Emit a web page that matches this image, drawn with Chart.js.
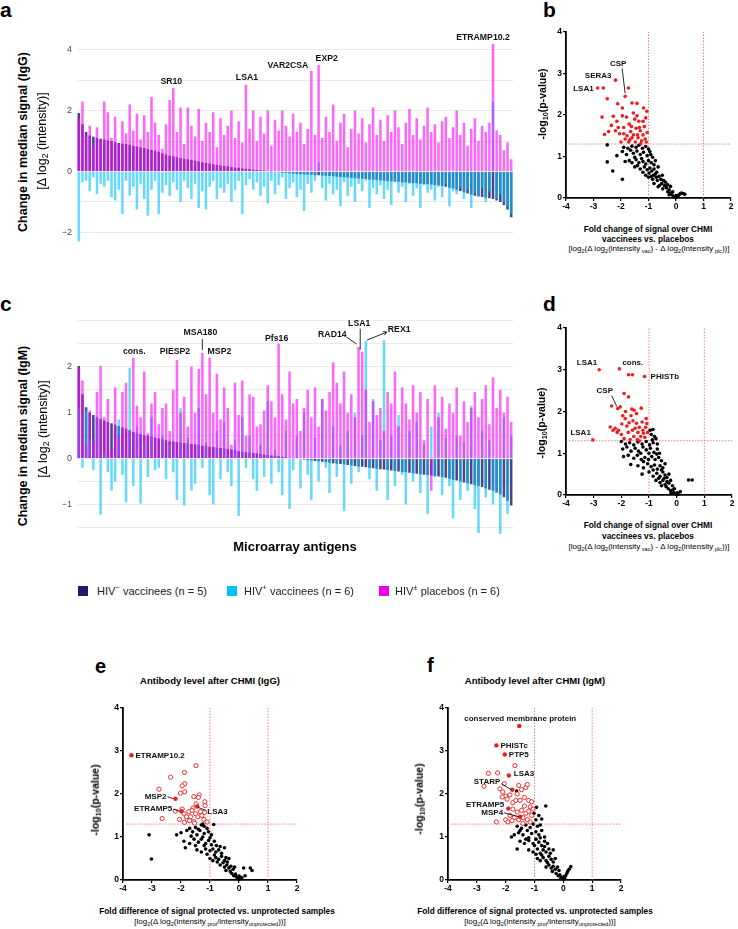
<!DOCTYPE html>
<html>
<head>
<meta charset="utf-8">
<script src="https://cdn.jsdelivr.net/npm/chart.js@4.4.1/dist/chart.umd.min.js"></script>
<style>
  body { margin: 0; background: #fff; font-family: "Liberation Sans", Arial, sans-serif; }
  #page { position: relative; width: 738px; height: 929px; overflow: hidden; }
  canvas { position: absolute; }
  .t { position: absolute; white-space: nowrap; line-height: 1; color: #000; }
  .c { transform: translate(-50%, -50%); }
  .r { transform: translate(-50%, -50%) rotate(-90deg); }
  .l { transform: translateY(-50%); }
  .letter { font-weight: bold; font-size: 21px; }
  .b { font-weight: bold; }
  sub { font-size: 70%; vertical-align: -0.3em; line-height: 0; }
  sup { font-size: 70%; vertical-align: 0.55em; line-height: 0; }
  .sq { position: absolute; width: 10px; height: 10px; }
</style>
</head>
<body>
<div id="page">
  <canvas id="chartA" width="472" height="233" style="left:49px;top:25px"></canvas>
  <canvas id="chartB" width="197" height="198" style="left:542px;top:24px"></canvas>
  <canvas id="chartC" width="472" height="247" style="left:49px;top:300px"></canvas>
  <canvas id="chartD" width="198" height="199" style="left:542px;top:320px"></canvas>
  <canvas id="chartE" width="206" height="204" style="left:99px;top:700px"></canvas>
  <canvas id="chartF" width="205" height="204" style="left:424px;top:700px"></canvas>

  <div class="t letter" style="left:0;top:-1px">a</div>
  <div class="t letter" style="left:543px;top:-1px">b</div>
  <div class="t letter" style="left:0;top:293px">c</div>
  <div class="t letter" style="left:543px;top:293px">d</div>
  <div class="t letter" style="left:95px;top:656px;font-size:20px">e</div>
  <div class="t letter" style="left:427px;top:655px;font-size:20px">f</div>

  <!-- bar panel axis titles -->
  <div class="t r b" style="left:23px;top:142px;font-size:12.5px">Change in median signal (IgG)</div>
  <div class="t r" style="left:42px;top:141px;font-size:12.5px">[Δ log<sub>2</sub> (intensity)]</div>
  <div class="t r b" style="left:23px;top:436px;font-size:12.5px">Change in median signal (IgM)</div>
  <div class="t r" style="left:43px;top:429px;font-size:12.5px">[Δ log<sub>2</sub> (intensity)]</div>
  <div class="t c b" style="left:295px;top:546px;font-size:13px">Microarray antigens</div>

  <!-- legend -->
  <div class="sq" style="left:78px;top:586px;background:#1f1a6e"></div>
  <div class="t l" style="left:97px;top:591px;font-size:11px;color:#222">HIV<sup>−</sup> vaccinees (n = 5)</div>
  <div class="sq" style="left:227px;top:586px;background:#00bfff"></div>
  <div class="t l" style="left:244px;top:591px;font-size:11px;color:#222">HIV<sup>+</sup> vaccinees (n = 6)</div>
  <div class="sq" style="left:379px;top:586px;background:#ee00ee"></div>
  <div class="t l" style="left:395px;top:591px;font-size:11px;color:#222">HIV<sup>±</sup> placebos (n = 6)</div>

  <!-- volcano b / d titles -->
  <div class="t r b" style="left:542px;top:104px;font-size:10.5px">-log<sub>10</sub>(p-value)</div>
  <div class="t c b" style="left:648px;top:229px;font-size:8.3px">Fold change of signal over CHMI</div>
  <div class="t c b" style="left:648px;top:239px;font-size:8.3px">vaccinees vs. placebos</div>
  <div class="t c" style="left:649px;top:249px;font-size:8px">[log<sub>2</sub>(Δ log<sub>2</sub>(intensity<sub> vac</sub>) - Δ log<sub>2</sub>(intensity<sub> plc</sub>))]</div>

  <div class="t r b" style="left:541px;top:423px;font-size:10.5px">-log<sub>10</sub>(p-value)</div>
  <div class="t c b" style="left:648px;top:525px;font-size:8.3px">Fold change of signal over CHMI</div>
  <div class="t c b" style="left:648px;top:536px;font-size:8.3px">vaccinees vs. placebos</div>
  <div class="t c" style="left:649px;top:547px;font-size:8px">[log<sub>2</sub>(Δ log<sub>2</sub>(intensity<sub> vac</sub>) - Δ log<sub>2</sub>(intensity<sub> plc</sub>))]</div>

  <!-- volcano e / f titles -->
  <div class="t c b" style="left:210px;top:681px;font-size:9.5px">Antibody level after CHMI (IgG)</div>
  <div class="t r b" style="left:95px;top:800px;font-size:10.5px">-log<sub>10</sub>(p-value)</div>
  <div class="t c b" style="left:217px;top:911px;font-size:8.3px">Fold difference of signal protected vs. unprotected samples</div>
  <div class="t c" style="left:210px;top:922px;font-size:8px">[log<sub>2</sub>(Δ log<sub>2</sub>(intensity<sub> prot</sub>/intensity<sub>unprotected</sub>))]</div>

  <div class="t c b" style="left:535px;top:681px;font-size:9.5px">Antibody level after CHMI (IgM)</div>
  <div class="t r b" style="left:419px;top:799px;font-size:10.5px">-log<sub>10</sub>(p-value)</div>
  <div class="t c b" style="left:535px;top:911px;font-size:8.3px">Fold difference of signal protected vs. unprotected samples</div>
  <div class="t c" style="left:540px;top:922px;font-size:8px">[log<sub>2</sub>(Δ log<sub>2</sub>(intensity<sub> prot</sub>/intensity<sub>unprotected</sub>))]</div>
</div>

<script>
// ---- panel a: change in median IgG signal per antigen (sorted by HIV- vaccinees)
const negVacIgG = [
  1.92, 1.55, 1.3, 1.18, 1.14, 1.1, 1.08, 1.05, 1.02, 1.0,
  0.97, 0.94, 0.92, 0.9, 0.88, 0.85, 0.82, 0.8, 0.77, 0.74,
  0.71, 0.68, 0.65, 0.6, 0.56, 0.52, 0.5, 0.47, 0.44, 0.42,
  0.4, 0.38, 0.35, 0.33, 0.3, 0.28, 0.26, 0.24, 0.22, 0.2,
  0.18, 0.17, 0.15, 0.13, 0.12, 0.1, 0.09, 0.08, 0.06, 0.05,
  0.04, 0.03, 0.02, 0.01, 0.0, -0.02, -0.04, -0.05, -0.06, -0.07,
  -0.08, -0.09, -0.1, -0.1, -0.11, -0.12, -0.12, -0.13, -0.14, -0.15,
  -0.16, -0.17, -0.18, -0.19, -0.2, -0.21, -0.22, -0.23, -0.24, -0.25,
  -0.26, -0.27, -0.28, -0.29, -0.3, -0.31, -0.32, -0.33, -0.34, -0.35,
  -0.36, -0.37, -0.38, -0.39, -0.4, -0.41, -0.42, -0.43, -0.44, -0.45,
  -0.48, -0.5, -0.53, -0.56, -0.6, -0.64, -0.68, -0.72, -0.76, -0.8,
  -0.82, -0.84, -0.86, -0.88, -0.9, -0.95, -1.0, -1.1, -1.25, -1.5
];
const posVacIgG = [
  -2.3, -0.35, -0.3, -0.65, -0.2, -0.75, -0.4, -0.5, -0.3, -0.85,
  -0.95, -0.6, -1.4, -0.3, -0.8, -0.5, -1.25, -0.4, -0.9, -1.45,
  -0.6, -0.3, -1.4, -0.7, -0.45, -0.8, -0.35, -0.6, -1.0, -0.3,
  -0.55, -0.9, -0.4, -1.2, -0.65, -1.25, -0.5, -0.3, -0.9, -0.55,
  -0.7, -0.4, -1.0, -0.6, -0.3, -1.4, -0.45, -0.25, -0.6, -0.35,
  -0.8, -0.5, -1.05, -0.3, -0.75, -0.45, -0.2, -0.9, -0.55, -0.35,
  -0.85, -0.6, -1.3, -0.4, -0.7, -0.3, 0.3, -0.55, -0.95, -0.4,
  -0.75, -0.6, -1.15, -0.35, -0.8, -0.5, -1.0, -0.4, -0.65, -0.3,
  -1.2, -0.55, -0.75, -0.45, -0.9, -0.6, -1.1, -0.35, -0.7, -0.5,
  -1.0, -0.4, -0.8, -0.55, -1.2, -0.45, -0.7, -0.6, -0.95, -0.5,
  -0.85, -0.4, -1.15, -0.65, -0.75, -0.5, -0.9, -0.6, -1.2, -0.7,
  -0.8, -0.55, -1.0, -0.65, 2.3, -0.9, -0.75, -1.0, -1.15, -1.4
];
const placeboIgG = [
  1.75, 2.3, 1.2, 1.5, 0.85, 1.45, 1.0, 2.3, 1.95, 1.1,
  1.8, 0.9, 1.65, 1.25, 2.2, 1.35, 1.9, 1.05, 1.85, 1.3,
  2.45, 1.6, 1.2, 0.75, 1.55, 2.35, 2.75, 1.3, 2.1, 0.9,
  2.1, 1.5, 1.15, 2.05, 1.0, 1.6, 1.3, 1.95, 0.8, 1.75,
  1.2, 1.5, 2.0, 1.1, 1.65, 0.95, 2.85, 1.4, 2.0, 1.0,
  1.8, 1.25, 2.0, 0.85, 1.7, 1.35, 2.0, 1.5, 1.15, 1.9,
  1.3, 1.6, 0.9, 1.4, 3.3, 1.2, 3.5, 1.1, 1.8, 1.3,
  2.2, 1.0, 1.6, 1.9, 0.8, 1.4, 2.0, 1.25, 1.75, 0.95,
  1.55, 2.1, 1.2, 1.7, 1.0, 1.85, 1.3, 2.0, 1.45, 0.9,
  1.6, 2.05, 1.2, 1.75, 1.05, 1.5, 2.1, 1.3, 1.55, 0.95,
  1.65, 1.8, 1.1, 1.45, 2.0, 1.2, 1.6, 0.85, 1.4, 1.75,
  1.0, 1.5, 1.3, 1.6, 4.2, 1.35, 1.2, 0.7, 0.95, 0.4
];

// ---- panel c: same for IgM
const negVacIgM = [
  2.02, 1.4, 1.12, 1.0, 0.95, 0.9, 0.86, 0.83, 0.8, 0.77,
  0.74, 0.71, 0.68, 0.65, 0.62, 0.58, 0.55, 0.53, 0.51, 0.5,
  0.48, 0.46, 0.44, 0.42, 0.4, 0.38, 0.37, 0.36, 0.35, 0.34,
  0.33, 0.32, 0.31, 0.3, 0.28, 0.27, 0.26, 0.25, 0.24, 0.23,
  0.22, 0.21, 0.2, 0.18, 0.16, 0.15, 0.14, 0.13, 0.12, 0.11,
  0.1, 0.09, 0.08, 0.07, 0.06, 0.05, 0.04, 0.03, 0.02, 0.01,
  0.0, -0.01, -0.02, -0.03, -0.04, -0.05, -0.06, -0.07, -0.08, -0.09,
  -0.1, -0.11, -0.12, -0.13, -0.14, -0.15, -0.16, -0.17, -0.18, -0.19,
  -0.2, -0.21, -0.22, -0.23, -0.24, -0.25, -0.26, -0.27, -0.28, -0.29,
  -0.3, -0.31, -0.32, -0.33, -0.34, -0.35, -0.36, -0.37, -0.38, -0.39,
  -0.4, -0.42, -0.44, -0.46, -0.48, -0.5, -0.52, -0.54, -0.56, -0.58,
  -0.6, -0.62, -0.65, -0.68, -0.7, -0.74, -0.78, -0.84, -0.92, -1.02
];
const posVacIgM = [
  1.1, -0.2, 1.05, 0.4, -0.25, 0.9, -1.22, 0.15, -0.3, -0.7,
  -0.5, 0.85, -0.35, -0.95, 1.98, -0.6, 0.7, -0.98, 0.35, -0.4,
  0.9, -0.25, -0.2, 0.5, -0.45, 0.3, -0.3, -0.9, 1.1, -1.02,
  0.45, -0.7, -0.55, 1.1, -0.2, 0.35, -0.8, -1.0, 0.6, -0.45,
  0.8, -0.3, -0.6, 0.4, -1.25, 0.9, -0.2, 0.5, -0.45, -0.7,
  0.3, -0.4, 1.25, -0.55, 0.2, -0.3, -0.8, 0.6, -1.1, -0.25,
  0.5, -0.65, 1.0, -0.35, -0.9, 0.45, -0.5, 1.3, -0.2, -0.75,
  0.7, -0.4, 0.3, -1.15, 0.6, -0.55, 1.0, -0.3, 0.5, 2.56,
  -0.45, 1.3, -0.7, 0.4, 2.58, -0.9, 0.5, -0.6, 0.95, -0.35,
  -1.0, 0.6, -0.5, 0.8, -0.75, 0.3, -1.2, 0.7, -0.4, 1.0,
  -0.8, 0.45, -0.6, -1.3, 0.5, -0.9, 0.35, -0.7, 1.15, -1.1,
  -1.62, 0.6, -0.85, 0.4, -1.0, -0.75, -1.64, 0.9, -1.2, 0.5
];
const placeboIgM = [
  1.95, 1.7, 0.3, 1.05, 0.4, 1.45, 2.02, 0.9, 1.3, 0.2,
  1.55, 0.5, 1.45, 1.65, 0.6, 2.2, 1.15, 0.9, 1.9, 0.55,
  1.2, 1.45, 0.75, 1.1, 1.2, 0.6, 1.5, 2.15, 1.0, 1.35,
  0.7, 2.0, 1.0, 1.95, 2.3, 1.4, 2.2, 1.0, 1.85, 0.85,
  1.55, 1.1, 0.3, 1.65, 0.95, 1.7, 0.5, 1.4, 1.35, 0.7,
  0.75, 1.05, 1.6, 1.25, 0.9, 2.5, 1.4, 0.85, 1.9, 1.2,
  1.3, 0.6, 1.1, 1.5, 0.9, 1.55, 0.7, 1.3, 1.05, 1.45,
  2.1, 1.65, 1.2, 1.9, 1.0, 1.4, 0.9, 2.43, 2.33, 1.5,
  0.8, 1.25, 0.95, 1.1, 0.6, 1.45, 1.2, 1.9, 0.7, 1.55,
  1.2, 0.85, 1.6, 1.0, 1.45, 0.4, 1.3, -0.7, 1.6, 0.9,
  1.35, 0.65, 1.2, 1.0, 1.55, 0.5, 1.25, 0.8, 1.1, 1.45,
  0.9, 1.3, 1.6, 0.75, 1.77, 1.1, 1.5, 1.0, 1.35, 0.8
];

// ---- volcano panels: [log2 fold change, -log10 p]
const foldCut = [-1, 1];
const pCut = 1.3;

const sigB = [
  [-2.85, 2.65], [-2.64, 2.65], [-2.2, 2.84], [-1.85, 2.45], [-1.73, 2.65], [-2.5, 2.39], [-2.69, 1.95], [-2.6, 1.53],
  [-2.12, 2.27], [-1.95, 2.17], [-1.6, 2.29], [-1.42, 2.28], [-1.18, 2.17], [-1.06, 2.09], [-1.1, 1.93], [-2.35, 1.75],
  [-2.2, 1.62], [-2.05, 1.55], [-1.9, 1.7], [-1.8, 1.95], [-1.7, 1.78], [-1.65, 1.6], [-1.55, 1.52], [-1.5, 1.9],
  [-1.45, 1.68], [-1.38, 1.45], [-1.3, 1.62], [-1.25, 1.38], [-1.2, 1.52], [-1.15, 1.72], [-1.08, 1.35], [-1.05, 1.58],
  [-2.0, 1.35], [-1.85, 1.42], [-1.72, 1.35], [-1.6, 1.45], [-1.48, 1.35], [-1.35, 1.85], [-2.28, 1.97], [-2.15, 1.85],
  [-1.95, 1.98], [-1.62, 1.72], [-1.4, 1.52], [-1.28, 1.31], [-1.12, 1.42], [-2.45, 1.6], [-1.78, 1.5], [-1.55, 2.05],
  [-1.42, 1.98], [-1.2, 1.85], [-1.9, 1.55], [-1.68, 1.4], [-1.33, 1.7], [-2.1, 1.7]
];
const restB = [
  [-2.5, 1.28], [-1.9, 1.22], [-1.75, 1.2], [-1.6, 1.25], [-1.45, 1.22], [-1.35, 1.27], [-1.22, 1.2], [-1.1, 1.24],
  [-1.0, 1.18], [-0.95, 1.12], [-2.15, 1.02], [-1.95, 1.12], [-1.8, 1.05], [-1.65, 1.15], [-1.55, 1.08], [-1.42, 1.13],
  [-1.3, 1.05], [-1.18, 1.1], [-1.05, 1.02], [-0.92, 1.05], [-0.85, 0.98], [-1.5, 0.98], [-1.25, 0.95], [-2.5, 0.87],
  [-1.85, 0.88], [-1.7, 0.9], [-1.6, 0.85], [-1.45, 0.92], [-1.35, 0.85], [-1.2, 0.88], [-1.1, 0.82], [-1.0, 0.9],
  [-0.9, 0.85], [-0.8, 0.8], [-0.75, 0.9], [-1.4, 0.78], [-1.15, 0.75], [-2.3, 0.65], [-1.5, 0.75], [-1.3, 0.7],
  [-1.05, 0.68], [-0.95, 0.72], [-0.88, 0.65], [-0.8, 0.7], [-0.7, 0.62], [-0.65, 0.75], [-1.2, 0.62], [-0.98, 0.6],
  [-0.75, 0.58], [-1.95, 0.45], [-1.1, 0.55], [-0.9, 0.52], [-0.82, 0.55], [-0.72, 0.5], [-0.62, 0.52], [-0.55, 0.45],
  [-0.68, 0.42], [-0.85, 0.45], [-0.5, 0.55], [-0.45, 0.42], [-1.0, 0.5], [-0.8, 0.35], [-0.6, 0.3], [-0.52, 0.35],
  [-0.42, 0.3], [-0.35, 0.25], [-0.3, 0.32], [-0.48, 0.22], [-0.65, 0.27], [-0.25, 0.2], [-0.38, 0.38], [-0.2, 0.28],
  [-0.3, 0.15], [-0.2, 0.12], [-0.15, 0.08], [-0.1, 0.05], [-0.05, 0.03], [0.0, 0.01], [0.05, 0.04], [0.1, 0.07],
  [0.15, 0.1], [0.2, 0.12], [0.28, 0.1], [0.32, 0.09], [-0.25, 0.08], [-0.12, 0.15], [0.0, 0.06]
];

const sigD = [
  [-2.8, 3.0], [-2.07, 3.02], [-1.74, 2.88], [-1.6, 2.88], [-1.16, 2.84], [-2.13, 2.07], [-2.35, 2.13], [-2.04, 2.11],
  [-1.9, 2.43], [-1.74, 2.35], [-3.03, 1.32], [-2.4, 1.63], [-2.22, 1.6], [-2.1, 1.55], [-1.62, 2.06], [-1.28, 2.08],
  [-1.54, 2.03], [-1.86, 1.83], [-1.72, 1.73], [-1.1, 1.83], [-1.08, 1.71], [-1.95, 1.9], [-1.8, 1.65], [-1.65, 1.9],
  [-1.58, 1.78], [-1.5, 1.6], [-1.45, 1.72], [-1.4, 1.5], [-1.35, 1.62], [-1.3, 1.4], [-1.22, 1.55], [-1.15, 1.38],
  [-1.05, 1.5], [-2.0, 1.45], [-1.9, 1.35], [-1.75, 1.5], [-1.68, 1.33], [-1.55, 1.4], [-1.42, 1.33], [-1.25, 1.75],
  [-1.12, 1.62], [-2.3, 1.55], [-1.98, 1.7], [-1.45, 1.95], [-1.85, 2.0], [-1.6, 1.55], [-1.35, 1.3], [-2.15, 1.5],
  [-1.2, 1.48]
];
const restD = [
  [-0.96, 1.55], [-0.86, 1.57], [-0.92, 1.45], [-0.8, 1.4], [-0.88, 1.32], [-0.75, 1.35], [-2.0, 1.28], [-1.85, 1.22],
  [-1.7, 1.25], [-1.55, 1.2], [-1.4, 1.27], [-1.25, 1.22], [-1.1, 1.28], [-0.98, 1.2], [-0.85, 1.25], [-0.7, 1.22],
  [-1.95, 1.1], [-1.8, 1.15], [-1.65, 1.05], [-1.5, 1.12], [-1.38, 1.05], [-1.22, 1.15], [-1.1, 1.08], [-0.95, 1.12],
  [-0.82, 1.02], [-0.7, 1.1], [-0.62, 1.0], [-1.3, 1.0], [-1.0, 1.0], [-1.92, 0.92], [-1.75, 0.95], [-1.55, 0.88],
  [-1.42, 0.95], [-1.28, 0.85], [-1.15, 0.9], [-1.02, 0.85], [-0.9, 0.92], [-0.78, 0.85], [-0.65, 0.9], [-0.55, 0.82],
  [-1.2, 0.8], [-0.72, 0.98], [-1.66, 0.73], [-1.4, 0.7], [-1.2, 0.65], [-1.05, 0.75], [-0.92, 0.68], [-0.8, 0.72],
  [-0.7, 0.62], [-0.6, 0.7], [-0.5, 0.65], [-0.42, 0.75], [-0.85, 0.6], [-0.55, 0.6], [-1.25, 0.5], [-1.0, 0.55],
  [-0.85, 0.45], [-0.72, 0.52], [-0.6, 0.45], [-0.5, 0.55], [-0.42, 0.48], [-0.35, 0.42], [-0.28, 0.5], [-0.65, 0.4],
  [-0.45, 0.4], [-0.75, 0.35], [-0.6, 0.3], [-0.5, 0.35], [-0.42, 0.25], [-0.35, 0.32], [-0.28, 0.28], [-0.22, 0.35],
  [-0.15, 0.22], [-0.38, 0.2], [-0.55, 0.22], [0.43, 0.36], [0.56, 0.36], [-0.3, 0.15], [-0.22, 0.1], [-0.15, 0.12],
  [-0.1, 0.06], [-0.05, 0.03], [0.0, 0.01], [0.05, 0.02], [0.13, 0.08], [-0.2, 0.04], [-0.08, 0.15], [0.02, 0.05]
];

const keyE = [[-3.71, 2.9], [-2.19, 1.89], [-1.99, 1.6], [-1.44, 1.71]];
const sigE = [
  [-2.36, 2.39], [-2.76, 2.11], [-2.65, 1.43], [-1.88, 2.5], [-1.48, 2.66], [-1.87, 2.24], [-1.96, 2.19], [-2.02, 2.02],
  [-1.87, 2.05], [-1.56, 1.94], [-1.37, 1.98], [-1.18, 1.82], [-1.17, 1.73], [-2.05, 1.41], [-1.9, 1.54], [-1.73, 1.59],
  [-1.59, 1.67], [-1.5, 1.54], [-1.42, 1.47], [-1.56, 1.36], [-1.79, 1.4], [-1.67, 1.47], [-1.88, 1.34], [-1.33, 1.59],
  [-1.19, 1.57], [-1.96, 1.65], [-1.81, 1.47], [-1.53, 1.32], [-1.48, 1.77], [-1.21, 1.41], [-1.62, 1.62], [-1.4, 1.92],
  [-1.28, 1.5], [-1.1, 1.35], [-2.2, 1.6], [-1.7, 1.38]
];
const restE = [
  [-1.3, 1.28], [-1.5, 1.22], [-1.7, 1.2], [-1.2, 1.25], [-1.1, 1.2], [-1.4, 1.18], [-0.87, 1.29], [-1.25, 1.3],
  [-2.0, 1.1], [-1.8, 1.15], [-1.6, 1.12], [-1.45, 1.05], [-1.35, 1.15], [-1.2, 1.08], [-1.05, 1.12], [-0.95, 1.05],
  [-1.65, 1.02], [-1.25, 1.0], [-1.0, 0.98], [-2.15, 1.05], [-3.1, 1.05], [-1.9, 0.9], [-1.7, 0.85], [-1.55, 0.95],
  [-1.4, 0.88], [-1.3, 0.95], [-1.15, 0.85], [-1.05, 0.92], [-0.95, 0.82], [-0.85, 0.9], [-0.78, 0.8], [-1.2, 0.8],
  [-1.5, 0.8], [-1.85, 0.75], [-1.45, 0.7], [-1.3, 0.65], [-1.15, 0.72], [-1.0, 0.68], [-0.9, 0.72], [-0.8, 0.65],
  [-0.7, 0.7], [-0.6, 0.62], [-0.5, 0.75], [-1.1, 0.6], [-0.85, 0.58], [-0.65, 0.78], [-3.02, 0.49], [-1.0, 0.5],
  [-0.9, 0.45], [-0.8, 0.52], [-0.7, 0.48], [-0.6, 0.55], [-0.5, 0.45], [-0.45, 0.52], [-0.4, 0.42], [-0.55, 0.4],
  [-0.75, 0.42], [-0.35, 0.5], [-0.65, 0.35], [-0.5, 0.3], [-0.42, 0.35], [-0.35, 0.28], [-0.28, 0.32], [-0.2, 0.25],
  [-0.3, 0.2], [-0.45, 0.22], [0.16, 0.28], [0.39, 0.28], [0.45, 0.22], [-0.15, 0.3], [-0.25, 0.15], [-0.18, 0.1],
  [-0.1, 0.08], [-0.05, 0.04], [0.0, 0.02], [0.05, 0.07], [0.1, 0.05], [0.21, 0.1], [-0.12, 0.14], [0.0, 0.09]
];

const keyF = [[-1.53, 3.58], [-2.32, 3.13], [-2.03, 2.92], [-1.89, 2.43], [-1.77, 2.1], [-1.91, 1.66], [-1.5, 1.47]];
const sigF = [
  [-2.6, 2.48], [-2.28, 2.49], [-2.75, 2.18], [-1.68, 2.66], [-2.05, 2.24], [-2.1, 2.05], [-2.0, 1.95], [-2.12, 1.93],
  [-1.95, 1.88], [-1.85, 1.98], [-1.65, 1.85], [-1.6, 2.0], [-1.55, 2.2], [-1.45, 2.1], [-1.3, 2.15], [-1.25, 2.22],
  [-1.2, 1.85], [-1.1, 1.82], [-1.15, 1.7], [-1.35, 1.72], [-1.45, 1.62], [-1.6, 1.58], [-1.75, 1.65], [-1.85, 1.5],
  [-1.7, 1.45], [-1.55, 1.4], [-1.4, 1.45], [-1.3, 1.55], [-1.2, 1.6], [-1.25, 1.4], [-1.1, 1.5], [-2.32, 1.35],
  [-2.0, 1.4], [-1.92, 1.35], [-1.78, 1.38], [-1.4, 1.32], [-1.15, 1.35], [-1.5, 1.85], [-1.75, 1.8], [-2.2, 2.12],
  [-1.35, 1.92], [-1.05, 1.65]
];
const restF = [
  [-1.62, 2.07], [-0.61, 1.72], [-0.93, 1.69], [-1.02, 1.55], [-0.85, 1.5], [-0.75, 1.42], [-0.95, 1.4], [-1.6, 1.25],
  [-1.45, 1.2], [-1.3, 1.28], [-1.15, 1.22], [-1.05, 1.3], [-0.9, 1.25], [-0.8, 1.28], [-1.5, 1.15], [-1.7, 1.05],
  [-1.55, 1.1], [-1.4, 1.05], [-1.25, 1.15], [-1.1, 1.08], [-0.95, 1.12], [-0.85, 1.05], [-0.75, 1.15], [-0.65, 1.0],
  [-1.2, 0.98], [-1.8, 1.0], [-1.5, 0.9], [-1.35, 0.85], [-1.2, 0.92], [-1.05, 0.85], [-0.95, 0.95], [-0.85, 0.88],
  [-0.75, 0.8], [-0.65, 0.9], [-0.55, 0.85], [-1.0, 0.8], [-0.8, 0.98], [-1.3, 0.95], [-1.6, 0.72], [-1.2, 0.7],
  [-1.05, 0.65], [-0.9, 0.72], [-0.8, 0.62], [-0.7, 0.7], [-0.6, 0.65], [-0.5, 0.72], [-0.45, 0.62], [-0.95, 0.6],
  [-0.65, 0.78], [-0.35, 0.7], [-0.9, 0.5], [-0.8, 0.45], [-0.7, 0.52], [-0.6, 0.45], [-0.5, 0.55], [-0.42, 0.48],
  [-0.35, 0.42], [-0.28, 0.5], [-0.55, 0.4], [-0.75, 0.58], [-0.6, 0.3], [-0.5, 0.35], [-0.42, 0.28], [-0.35, 0.32],
  [-0.28, 0.25], [-0.2, 0.3], [-0.15, 0.22], [-0.38, 0.2], [0.26, 0.31], [0.2, 0.25], [0.15, 0.2], [-0.25, 0.15],
  [-0.18, 0.1], [-0.12, 0.12], [-0.06, 0.06], [0.0, 0.02], [0.04, 0.04], [0.08, 0.1], [0.12, 0.15], [-0.1, 0.03],
  [0.02, 0.08]
];

Chart.defaults.font.family = '"Liberation Sans", Arial, sans-serif';
Chart.defaults.animation = false;
Chart.defaults.plugins.legend.display = false;
Chart.defaults.plugins.tooltip.enabled = false;

// labels next to points / bars, with optional leader line (offsets in px from the mark)
function notesPlugin(notes, font) {
  return {
    id: 'notes',
    afterDatasetsDraw(chart) {
      const { ctx, scales } = chart;
      ctx.save();
      ctx.font = font;
      ctx.fillStyle = '#111';
      ctx.strokeStyle = '#111';
      ctx.lineWidth = 0.9;
      ctx.textBaseline = 'middle';
      for (const n of notes) {
        const px = scales.x.getPixelForValue(n.p[0]);
        const py = scales.y.getPixelForValue(n.p[1]);
        if (n.line) {
          const [x1, y1, x2, y2] = n.line;
          ctx.beginPath();
          ctx.moveTo(px + x1, py + y1);
          ctx.lineTo(px + x2, py + y2);
          if (n.arrow) {
            const a = Math.atan2(y2 - y1, x2 - x1);
            ctx.moveTo(px + x2 - 4 * Math.cos(a - 0.5), py + y2 - 4 * Math.sin(a - 0.5));
            ctx.lineTo(px + x2, py + y2);
            ctx.lineTo(px + x2 - 4 * Math.cos(a + 0.5), py + y2 - 4 * Math.sin(a + 0.5));
          }
          ctx.stroke();
        }
        ctx.textAlign = n.align || 'center';
        ctx.fillText(n.text, px + n.dx, py + n.dy);
      }
      ctx.restore();
    }
  };
}

const fmtMinus = (v) => String(v).replace('-', '\u2212');

function barChart(id, negVac, posVac, placebo, yRange, shown, padTop, notes) {
  const style = { grouped: false, barPercentage: 0.7, categoryPercentage: 1, borderWidth: 0 };
  return new Chart(document.getElementById(id), {
    type: 'bar',
    data: {
      labels: negVac.map((_, i) => 'antigen ' + (i + 1)),
      datasets: [
        Object.assign({ label: 'HIV± placebos (n = 6)', data: placebo, backgroundColor: 'rgba(255,0,255,0.6)', order: 1 }, style),
        Object.assign({ label: 'HIV+ vaccinees (n = 6)', data: posVac, backgroundColor: 'rgba(0,191,255,0.6)', order: 2 }, style),
        Object.assign({ label: 'HIV− vaccinees (n = 5)', data: negVac, backgroundColor: 'rgba(25,25,112,0.8)', order: 3 }, style),
      ]
    },
    options: {
      responsive: false,
      layout: { padding: { left: 8, right: 8, top: padTop, bottom: 8 } },
      scales: {
        x: { display: false, offset: true },
        y: {
          min: yRange[0],
          max: yRange[1],
          afterFit: (s) => { s.width = 20; },
          border: { display: false },
          grid: { color: '#ebebeb', drawTicks: false },
          ticks: {
            stepSize: yRange[2],
            includeBounds: false,
            padding: 5,
            color: '#4d4d4d',
            font: { size: 9 },
            callback: (v) => (shown.includes(v) ? fmtMinus(v) : '')
          }
        }
      }
    },
    plugins: [notesPlugin(notes, 'bold 8.7px "Liberation Sans", Arial, sans-serif')]
  });
}

function volcano(id, rest, sig, key, notes) {
  const red = '#ee1c1c';
  const dots = (pts, extra) => Object.assign({
    data: pts.map(([x, y]) => ({ x, y })),
    pointRadius: 1.8,
    pointBorderWidth: 0,
    clip: false
  }, extra);
  const cut = (pts) => ({
    type: 'line', data: pts, borderColor: 'rgba(232,80,80,0.9)', borderWidth: 0.8,
    borderDash: [1.5, 1.5], pointRadius: 0, order: 9
  });
  const datasets = [
    cut([{ x: foldCut[0], y: 0 }, { x: foldCut[0], y: 4 }]),
    cut([{ x: foldCut[1], y: 0 }, { x: foldCut[1], y: 4 }]),
    cut([{ x: -4, y: pCut }, { x: 2, y: pCut }]),
    dots(rest, { backgroundColor: '#000', order: 4 })
  ];
  if (key) {
    datasets.push(dots(sig, { backgroundColor: '#fff', borderColor: red, pointBorderWidth: 0.9, pointRadius: 2.1, order: 3 }));
    datasets.push(dots(key, { backgroundColor: red, pointRadius: 2.2, order: 2 }));
  } else {
    datasets.push(dots(sig, { backgroundColor: red, order: 2 }));
  }
  const axis = (min, max, fit) => ({
    type: 'linear', min, max,
    afterFit: fit,
    border: { color: '#000', width: 1.8 },
    grid: { drawOnChartArea: false, tickLength: 3, color: '#000', lineWidth: 1.2 },
    ticks: { stepSize: 1, padding: 1, color: '#000', maxRotation: 0, font: { size: 8.5, weight: 'bold' } }
  });
  return new Chart(document.getElementById(id), {
    type: 'scatter',
    data: { datasets },
    options: {
      responsive: false,
      layout: { padding: 8 },
      scales: {
        x: axis(-4, 2, (s) => { s.height = 16; }),
        y: axis(0, 4, (s) => { s.width = 16; })
      }
    },
    plugins: [notesPlugin(notes, 'bold 8px "Liberation Sans", Arial, sans-serif')]
  });
}

barChart('chartA', negVacIgG, posVacIgG, placeboIgG, [-2.5, 4.32, 1], [-2, 0, 2, 4], 15, [
  { text: 'SR10', p: [26, placeboIgG[26]], dx: -2, dy: -6 },
  { text: 'LSA1', p: [46, placeboIgG[46]], dx: 1, dy: -7 },
  { text: 'VAR2CSA', p: [64, placeboIgG[64]], dx: -3, dy: -5, align: 'right' },
  { text: 'EXP2', p: [66, placeboIgG[66]], dx: -3, dy: -6, align: 'left' },
  { text: 'ETRAMP10.2', p: [114, placeboIgG[114]], dx: -10, dy: -6 }
]);

barChart('chartC', negVacIgM, posVacIgM, placeboIgM, [-1.7, 3.02, 0.5], [-1, 0, 1, 2], 20, [
  { text: 'cons.', p: [15, placeboIgM[15]], dx: 1, dy: -6 },
  { text: 'PIESP2', p: [27, placeboIgM[27]], dx: -2, dy: -8 },
  { text: 'MSA180', p: [34, placeboIgM[34]], dx: -2, dy: -20, line: [0, -3, 0, -14] },
  { text: 'MSP2', p: [36, placeboIgM[36]], dx: -2, dy: -6, align: 'left' },
  { text: 'Pfs16', p: [55, placeboIgM[55]], dx: -2, dy: -5 },
  { text: 'RAD14', p: [77, placeboIgM[77]], dx: -12, dy: -12, align: 'right', line: [-12, -10, -2, -3] },
  { text: 'LSA1', p: [78, placeboIgM[78]], dx: -3, dy: -28, line: [-2, -23, -2, -2] },
  { text: 'REX1', p: [79, posVacIgM[79]], dx: 22, dy: -12, align: 'left', line: [1, -1, 21, -9], arrow: true }
]);

volcano('chartB', restB, sigB, null, [
  { text: 'LSA1', p: sigB[0], dx: -4, dy: 1, align: 'right' },
  { text: 'SERA3', p: sigB[2], dx: -4, dy: -4, align: 'right' },
  { text: 'CSP', p: sigB[3], dx: -7, dy: -33, line: [-3, -28, 0, -3] }
]);

volcano('chartD', restD, sigD, null, [
  { text: 'LSA1', p: sigD[0], dx: -2, dy: -7, align: 'right' },
  { text: 'cons.', p: sigD[1], dx: 3, dy: -6, align: 'left' },
  { text: 'PHISTb', p: sigD[4], dx: 6, dy: 0, align: 'left' },
  { text: 'CSP', p: sigD[5], dx: -13, dy: -18, line: [-6, -13, -1, -2] },
  { text: 'LSA1', p: sigD[10], dx: -2, dy: -7, align: 'right' }
]);

volcano('chartE', restE, sigE, keyE, [
  { text: 'ETRAMP10.2', p: keyE[0], dx: 4, dy: 0, align: 'left' },
  { text: 'MSP2', p: keyE[1], dx: -9, dy: -2, align: 'right', line: [-8, -2, -2, 0] },
  { text: 'ETRAMP5', p: keyE[2], dx: -9, dy: -2, align: 'right', line: [-8, -2, -2, 0] },
  { text: 'LSA3', p: keyE[3], dx: 10, dy: 5, align: 'left', line: [1, 1, 9, 4] }
]);

volcano('chartF', restF, sigF, keyF, [
  { text: 'conserved membrane protein', p: keyF[0], dx: 1, dy: -7 },
  { text: 'PHISTc', p: keyF[1], dx: 4, dy: 0, align: 'left' },
  { text: 'PTP5', p: keyF[2], dx: 4, dy: 0, align: 'left' },
  { text: 'LSA3', p: keyF[3], dx: 5, dy: -2, align: 'left' },
  { text: 'STARP', p: keyF[4], dx: -12, dy: -8, align: 'right', line: [-11, -6, -1, 0] },
  { text: 'ETRAMP5', p: keyF[5], dx: -4, dy: -4, align: 'right' },
  { text: 'MSP4', p: keyF[6], dx: -17, dy: -4, align: 'right', line: [-16, -4, -1, 0] }
]);
</script>
</body>
</html>
